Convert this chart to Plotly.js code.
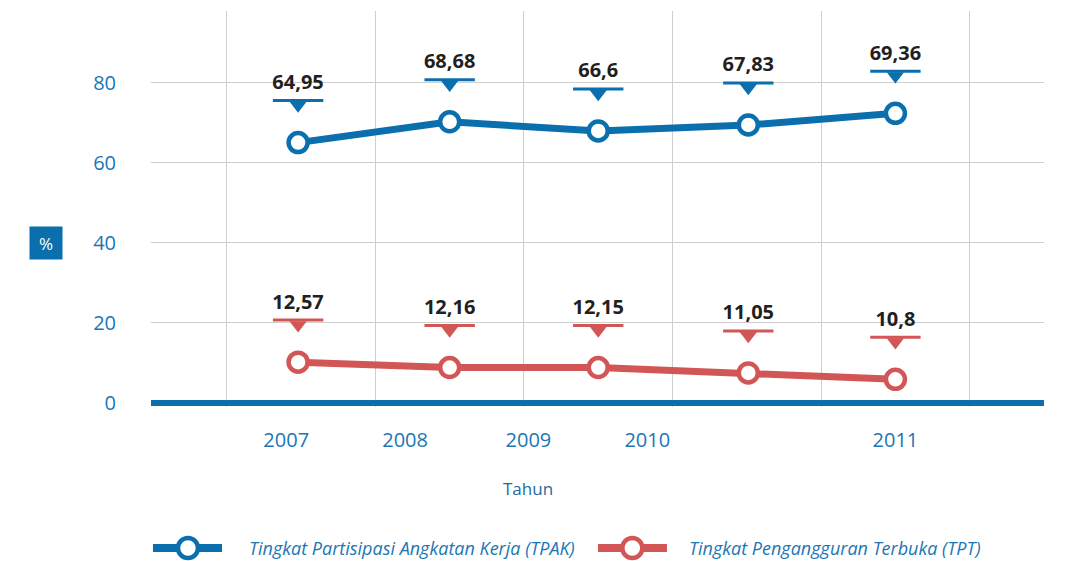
<!DOCTYPE html>
<html>
<head>
<meta charset="utf-8">
<script src="https://cdn.plot.ly/plotly-3.0.1.min.js"></script>
<style>
html,body{margin:0;padding:0;background:#fff;}
#chart{width:1079px;height:561px;}
</style>
</head>
<body>
<div id="chart"></div>
<script>
// ---- data ----
const years = ['2007', '2008', '2009', '2010', '2011'];
const pointX = [0.48, 1.5, 2.5, 3.51, 4.5];          // position of each point between grid lines
const yearLabelX = [0.40, 1.2, 2.03, 2.83, 4.5];     // where the year labels sit on the axis
const tpakPlotted = [65.0, 70.2, 67.9, 69.4, 72.3];
const tpakLabels = ['64,95', '68,68', '66,6', '67,83', '69,36'];
const tptPlotted = [10.2, 8.85, 8.85, 7.5, 5.9];
const tptLabels = ['12,57', '12,16', '12,15', '11,05', '10,8'];
const yTicks = [0, 20, 40, 60, 80];
const gridX = [0, 1, 2, 3, 4, 5];
const seriesNames = ['Tingkat Partisipasi Angkatan Kerja (TPAK)', 'Tingkat Pengangguran Terbuka (TPT)'];

// ---- style ----
const BLUE = '#0b6fae';
const RED = '#d35656';
const TICKBLUE = '#1b76b6';
const FONT = 'Open Sans, Noto Sans, sans-serif';
const BAR_OFF = 10.5, TRI_OFF = 9.3, TEXT_OFF = 14.6;   // label offsets in y-units

function add(arr, d) { return arr.map(v => v + d); }

function seriesTraces(vals, labels, color, name) {
  return [
    {
      x: pointX, y: vals, type: 'scatter', mode: 'lines+markers', name: name,
      line: {color: color, width: 7},
      marker: {symbol: 'circle', size: 19, color: '#ffffff', line: {color: color, width: 4.5}},
      hoverinfo: 'skip', showlegend: false
    },
    {
      x: pointX, y: add(vals, TRI_OFF), type: 'scatter', mode: 'markers',
      marker: {symbol: 'triangle-down', size: 15, color: color, line: {width: 0}},
      hoverinfo: 'skip', showlegend: false
    },
    {
      x: pointX, y: add(vals, BAR_OFF), type: 'scatter', mode: 'markers',
      marker: {symbol: 'line-ew', size: 36, line: {color: color, width: 3}},
      hoverinfo: 'skip', showlegend: false
    },
    {
      x: pointX, y: add(vals, TEXT_OFF), type: 'scatter', mode: 'text',
      text: labels, texttemplate: '<b>%{text}</b>', textposition: 'middle center',
      textfont: {family: FONT, size: 20, color: '#231f20'},
      hoverinfo: 'skip', showlegend: false
    }
  ];
}

const traces = [].concat(
  seriesTraces(tpakPlotted, tpakLabels, BLUE, seriesNames[0]),
  seriesTraces(tptPlotted, tptLabels, RED, seriesNames[1]),
  [{
    x: yearLabelX, y: yearLabelX.map(() => null), xaxis: 'x2', type: 'scatter', mode: 'markers',
    hoverinfo: 'skip', showlegend: false
  }]
);

// legend drawn by hand (long line + ring)
const legendY = -0.356;
const legendItems = [
  {x0: 0.0022, x1: 0.0795, xc: 0.0414, tx: 0.1075, color: BLUE, name: seriesNames[0]},
  {x0: 0.5006, x1: 0.5778, xc: 0.539, tx: 0.6002, color: RED, name: seriesNames[1]}
];
const shapes = [];
const annotations = [];
legendItems.forEach(it => {
  shapes.push({type: 'line', xref: 'paper', yref: 'paper', x0: it.x0, x1: it.x1, y0: legendY, y1: legendY,
    line: {color: it.color, width: 8}});
  shapes.push({type: 'circle', xref: 'paper', yref: 'paper', xsizemode: 'pixel', ysizemode: 'pixel',
    xanchor: it.xc, yanchor: legendY, x0: -10, x1: 10, y0: -10, y1: 10,
    fillcolor: '#ffffff', line: {color: it.color, width: 4.5}});
  annotations.push({xref: 'paper', yref: 'paper', x: it.tx, y: legendY, xanchor: 'left', yanchor: 'middle',
    text: '<i>' + it.name + '</i>', showarrow: false,
    font: {family: FONT, size: 18, color: TICKBLUE}});
});
annotations.push({xref: 'paper', yref: 'paper', x: 0.422, y: -0.205, xanchor: 'center', yanchor: 'middle',
  text: 'Tahun', showarrow: false, font: {family: FONT, size: 17, color: '#1d6a9e'}});
annotations.push({xref: 'paper', yref: 'paper', x: -0.118, y: 0.413, xanchor: 'center', yanchor: 'middle',
  text: '%', showarrow: false, bgcolor: BLUE, width: 30, height: 30,
  font: {family: FONT, size: 17, color: '#ffffff'}});

const layout = {
  width: 1079, height: 561,
  margin: {l: 151, r: 35, t: 11, b: 154},
  paper_bgcolor: '#ffffff', plot_bgcolor: '#ffffff',
  showlegend: false,
  xaxis: {
    range: [-0.51, 5.5], tickvals: gridX, showticklabels: false, ticks: '',
    showgrid: true, gridcolor: '#cfcfcf', gridwidth: 1, zeroline: false, showline: false, fixedrange: true
  },
  xaxis2: {
    overlaying: 'x', anchor: 'y', side: 'bottom', range: [-0.51, 5.5],
    tickvals: yearLabelX, ticktext: years, showgrid: false, zeroline: false, showline: false,
    ticks: 'outside', ticklen: 15, tickcolor: 'rgba(0,0,0,0)',
    tickfont: {family: FONT, size: 20, color: TICKBLUE}
  },
  yaxis: {
    range: [-1, 97.85], tickvals: yTicks, showgrid: true, gridcolor: '#cfcfcf', gridwidth: 1,
    zeroline: true, zerolinecolor: BLUE, zerolinewidth: 6, showline: false,
    ticks: 'outside', ticklen: 30, tickcolor: 'rgba(0,0,0,0)',
    tickfont: {family: FONT, size: 20, color: TICKBLUE}
  },
  shapes: shapes,
  annotations: annotations
};

Plotly.newPlot('chart', traces, layout, {staticPlot: true, displayModeBar: false});
</script>
</body>
</html>
